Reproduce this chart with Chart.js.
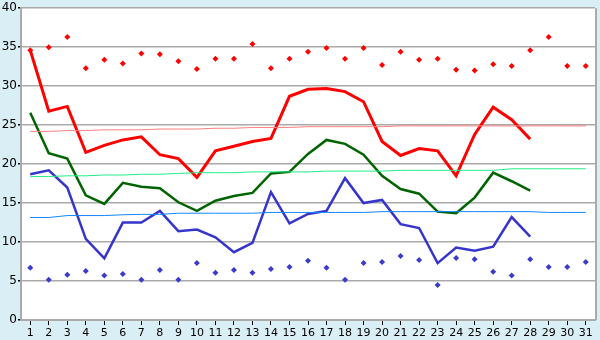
<!DOCTYPE html>
<html>
<head>
<meta charset="utf-8">
<script src="https://cdn.jsdelivr.net/npm/chart.js@4.4.1/dist/chart.umd.min.js"></script>
<style>
  html, body { margin: 0; padding: 0; background: #daeef5; }
  #wrap { width: 600px; height: 340px; }
</style>
</head>
<body>
<div id="wrap"><canvas id="chart"></canvas></div>
<script>
  const days = Array.from({ length: 31 }, (_, i) => String(i + 1));

  // daily lines (days 1-28)
  const maxTemp = [34.6, 26.8, 27.4, 21.5, 22.4, 23.1, 23.5, 21.2, 20.7, 18.3,
    21.7, 22.3, 22.9, 23.3, 28.7, 29.6, 29.7, 29.3, 28.0, 22.9,
    21.1, 22.0, 21.7, 18.5, 23.8, 27.3, 25.7, 23.2];
  const meanTemp = [26.6, 21.4, 20.7, 16.0, 14.9, 17.6, 17.1, 16.9, 15.1, 14.0,
    15.3, 15.9, 16.3, 18.8, 19.0, 21.3, 23.1, 22.6, 21.2, 18.5,
    16.8, 16.2, 13.9, 13.7, 15.7, 18.9, 17.8, 16.6];
  const minTemp = [18.7, 19.2, 17.0, 10.4, 7.9, 12.5, 12.5, 14.0, 11.4, 11.6,
    10.6, 8.7, 9.9, 16.4, 12.4, 13.6, 14.0, 18.2, 15.0, 15.4,
    12.3, 11.8, 7.3, 9.3, 8.9, 9.4, 13.2, 10.7];

  // record points (days 1-31)
  const recordHigh = [34.6, 35.0, 36.3, 32.3, 33.4, 32.9, 34.2, 34.1, 33.2, 32.2,
    33.5, 33.5, 35.4, 32.3, 33.5, 34.4, 34.9, 33.5, 34.9, 32.7,
    34.4, 33.4, 33.5, 32.1, 32.0, 32.8, 32.6, 34.6, 36.3, 32.6, 32.6];
  const recordLow = [6.7, 5.15, 5.8, 6.3, 5.7, 5.9, 5.15, 6.4, 5.15, 7.3,
    6.05, 6.4, 6.05, 6.55, 6.8, 7.6, 6.7, 5.15, 7.3, 7.45,
    8.2, 7.7, 4.5, 7.95, 7.8, 6.2, 5.7, 7.8, 6.8, 6.8, 7.45];

  // normals (days 1-31)
  const normalMax = [24.2, 24.2, 24.3, 24.3, 24.4, 24.4, 24.4, 24.5, 24.5, 24.5,
    24.6, 24.6, 24.7, 24.7, 24.7, 24.8, 24.8, 24.8, 24.8, 24.8,
    24.9, 24.9, 24.9, 24.9, 24.9, 24.9, 24.9, 24.9, 24.9, 24.9, 24.9];
  const normalMean = [18.4, 18.4, 18.5, 18.5, 18.6, 18.6, 18.7, 18.7, 18.8, 18.9,
    18.9, 18.9, 19.0, 19.0, 19.0, 19.0, 19.1, 19.1, 19.1, 19.1,
    19.2, 19.2, 19.2, 19.2, 19.2, 19.2, 19.4, 19.4, 19.4, 19.4, 19.4];
  const normalMin = [13.15, 13.15, 13.4, 13.4, 13.4, 13.5, 13.55, 13.55, 13.7, 13.7,
    13.7, 13.7, 13.7, 13.8, 13.8, 13.8, 13.8, 13.8, 13.8, 13.9,
    13.9, 13.9, 13.9, 13.9, 13.9, 13.9, 13.9, 13.9, 13.8, 13.8, 13.8];

  const yTicks = [0, 5, 10, 15, 20, 25, 30, 35, 40];

  const frame = {
    id: 'frame',
    beforeDraw(chart) {
      const { ctx, chartArea: a } = chart;
      ctx.save();
      ctx.fillStyle = '#daeef5';
      ctx.fillRect(0, 0, chart.width, chart.height);
      ctx.fillStyle = '#ffffff';
      ctx.fillRect(a.left, a.top, a.right - a.left, a.bottom - a.top);
      ctx.restore();
    },
    beforeDatasetsDraw(chart) {
      const { ctx, chartArea: a } = chart;
      ctx.save();
      ctx.strokeStyle = '#aaaaaa';
      ctx.lineWidth = 2;
      ctx.beginPath();
      ctx.moveTo(a.right + 1, a.top);
      ctx.lineTo(a.right + 1, a.bottom);
      ctx.stroke();
      ctx.restore();
    }
  };

  function lineSet(data, color, width) {
    return {
      type: 'line', data, borderColor: color, backgroundColor: color,
      borderWidth: width, pointRadius: 0, tension: 0, fill: false
    };
  }

  function pointSet(data, color) {
    return {
      type: 'line', data, showLine: false, pointStyle: 'rectRot',
      pointRadius: 3, pointBackgroundColor: color, pointBorderColor: color,
      pointBorderWidth: 0, borderColor: color
    };
  }

  new Chart(document.getElementById('chart'), {
    type: 'line',
    data: {
      labels: days,
      datasets: [
        lineSet(normalMax, '#ff8080', 1),
        lineSet(normalMean, '#22ee88', 1),
        lineSet(normalMin, '#1188ff', 1),
        pointSet(recordHigh, '#ff0000'),
        pointSet(recordLow, '#3a3acc'),
        lineSet(maxTemp, '#ff0000', 3),
        lineSet(meanTemp, '#006400', 2.5),
        lineSet(minTemp, '#3535cc', 2.5)
      ]
    },
    options: {
      responsive: true,
      maintainAspectRatio: false,
      animation: false,
      layout: { padding: { top: 5, right: 5, left: 0, bottom: 0 } },
      plugins: {
        legend: { display: false },
        title: { display: false },
        tooltip: { enabled: false }
      },
      scales: {
        x: {
          offset: true,
          grid: { drawOnChartArea: false, drawTicks: true, tickLength: 5, color: '#000000' },
          border: { color: '#aaaaaa', width: 2 },
          ticks: {
            color: '#000000', padding: 2, maxRotation: 0, autoSkip: false,
            font: { family: 'DejaVu Sans', size: 11 }
          },
          afterFit(scale) { scale.height = 20; }
        },
        y: {
          min: 0,
          max: 40,
          afterBuildTicks(scale) { scale.ticks = yTicks.map(v => ({ value: v })); },
          grid: {
            color: '#aaaaaa', lineWidth: 1.5, tickLength: 3, tickColor: '#000000'
          },
          border: { color: '#aaaaaa', width: 2 },
          ticks: {
            color: '#000000', padding: 1,
            font: { family: 'DejaVu Sans', size: 12 }
          },
          afterFit(scale) { scale.width = 21; }
        }
      }
    },
    plugins: [frame]
  });
</script>
</body>
</html>
